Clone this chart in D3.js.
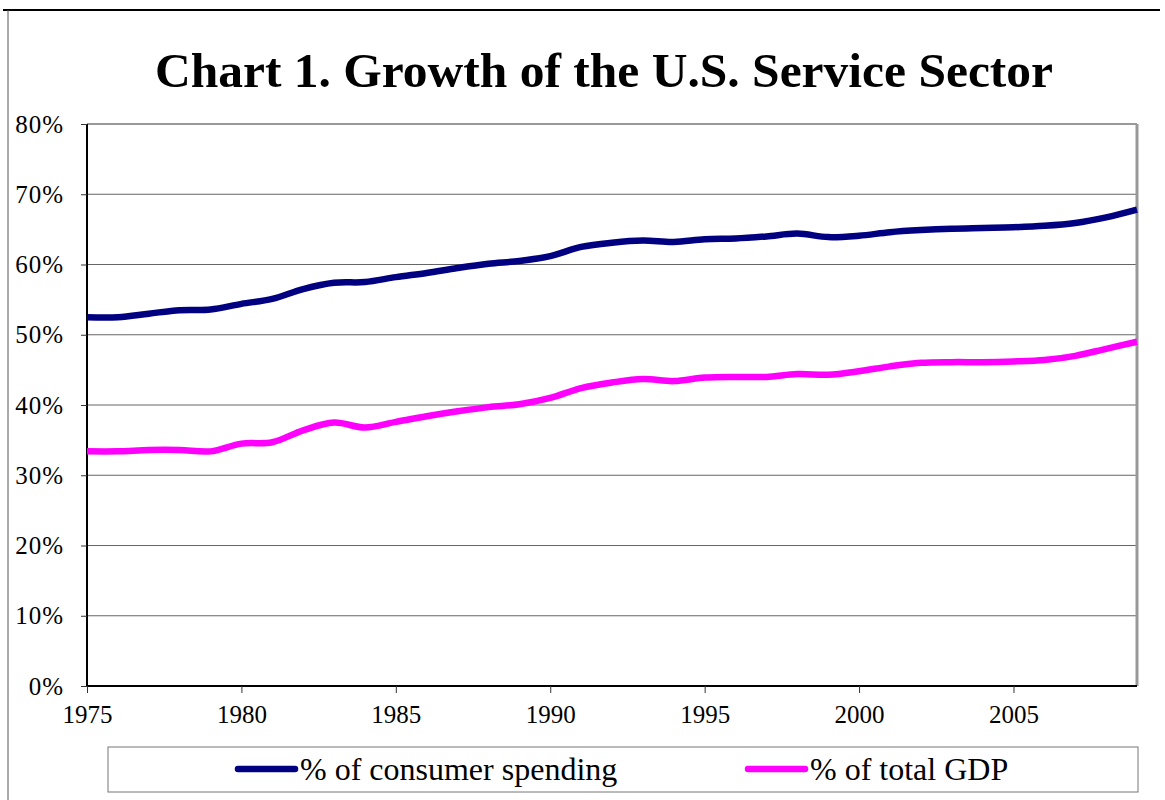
<!DOCTYPE html>
<html>
<head>
<meta charset="utf-8">
<script src="https://cdn.jsdelivr.net/npm/d3@7"></script>
<style>
  body { margin: 0; background: #fff; }
  text { font-family: "Liberation Serif", "Times New Roman", serif; }
</style>
</head>
<body>
<div id="chart"></div>
<script>
// data
var years = d3.range(1975, 2010);
var consumerSpending = [52.5, 52.5, 53.0, 53.5, 53.6, 54.4, 55.1, 56.5, 57.4, 57.5,
  58.2, 58.8, 59.5, 60.1, 60.5, 61.2, 62.5, 63.1, 63.4, 63.2,
  63.6, 63.7, 64.0, 64.4, 63.9, 64.1, 64.6, 64.9, 65.1, 65.2,
  65.3, 65.5, 65.9, 66.7, 67.8];
var totalGDP = [33.4, 33.4, 33.6, 33.6, 33.4, 34.5, 34.7, 36.4, 37.5, 36.8,
  37.6, 38.4, 39.1, 39.7, 40.1, 41.0, 42.4, 43.2, 43.7, 43.4,
  43.9, 44.0, 44.0, 44.4, 44.3, 44.8, 45.5, 46.0, 46.1, 46.1,
  46.2, 46.4, 47.0, 48.0, 49.0];
var seriesNames = ["% of consumer spending", "% of total GDP"];
var seriesColors = ["#000080", "#ff00ff"];
var yTicks = [0, 10, 20, 30, 40, 50, 60, 70, 80];
var xTicks = [1975, 1980, 1985, 1990, 1995, 2000, 2005];

var svgWidth = 1165;
var svgHeight = 800;

var margin = { top: 124, right: 28, bottom: 114, left: 87 };
var width = svgWidth - margin.left - margin.right;
var height = svgHeight - margin.top - margin.bottom;

var svg = d3.select("#chart")
  .append("svg")
  .attr("width", svgWidth)
  .attr("height", svgHeight);

// outer frame bits
svg.append("line")
  .attr("x1", 3).attr("x2", 1160).attr("y1", 10).attr("y2", 10)
  .attr("stroke", "#000").attr("stroke-width", 2);
svg.append("line")
  .attr("x1", 8).attr("x2", 8).attr("y1", 10).attr("y2", 800)
  .attr("stroke", "#555").attr("stroke-width", 1);

svg.append("text")
  .attr("x", 604)
  .attr("y", 87)
  .attr("text-anchor", "middle")
  .attr("font-size", "49.5px")
  .attr("font-weight", "bold")
  .text("Chart 1. Growth of the U.S. Service Sector");

var chartGroup = svg.append("g")
  .attr("transform", `translate(${margin.left},${margin.top})`);

var xScale = d3.scaleLinear().domain([1975, 2009]).range([0, width]);
var yScale = d3.scaleLinear().domain([0, 80]).range([height, 0]);

// gridlines
chartGroup.append("g")
  .selectAll("line")
  .data(yTicks.slice(1))
  .enter()
  .append("line")
  .attr("x1", 0).attr("x2", width)
  .attr("y1", d => yScale(d)).attr("y2", d => yScale(d))
  .attr("stroke", d => d === 80 ? "#999" : "#666")
  .attr("stroke-width", d => d === 80 ? 2 : 1);

chartGroup.append("line")
  .attr("x1", width).attr("x2", width).attr("y1", 0).attr("y2", height)
  .attr("stroke", "#999").attr("stroke-width", 3);

var leftAxis = d3.axisLeft(yScale)
  .tickValues(yTicks)
  .tickSize(6)
  .tickPadding(17)
  .tickFormat(d => d + "%");

var bottomAxis = d3.axisBottom(xScale)
  .tickValues(xTicks)
  .tickSize(7)
  .tickPadding(12)
  .tickFormat(d3.format("d"));

var yAxisG = chartGroup.append("g").call(leftAxis);
var xAxisG = chartGroup.append("g")
  .attr("transform", `translate(0, ${height})`)
  .call(bottomAxis);

[yAxisG, xAxisG].forEach(function(g) {
  g.attr("font-family", null).attr("font-size", null);
  g.select(".domain").attr("stroke", "#000").attr("stroke-width", 2);
  g.selectAll(".tick line").attr("stroke", "#333");
  g.selectAll(".tick text")
    .attr("font-size", "25px")
    .attr("fill", "#000");
});
yAxisG.select(".domain").attr("d", `M0,0V${height}`);
xAxisG.select(".domain").attr("d", `M0,0H${width}`);
yAxisG.selectAll(".tick text").attr("letter-spacing", "1px");

var line = d3.line()
  .x((d, i) => xScale(years[i]))
  .y(d => yScale(d))
  .curve(d3.curveCatmullRom.alpha(0.5));

[consumerSpending, totalGDP].forEach(function(vals, i) {
  chartGroup.append("path")
    .datum(vals)
    .attr("fill", "none")
    .attr("stroke", seriesColors[i])
    .attr("stroke-width", 6.5)
    .attr("stroke-linejoin", "round")
    .attr("d", line);
});

// legend
var legend = svg.append("g");
legend.append("rect")
  .attr("x", 108).attr("y", 747)
  .attr("width", 1030).attr("height", 45)
  .attr("fill", "#fff")
  .attr("stroke", "#777")
  .attr("stroke-width", 1);

var legendX = [238, 748];
seriesNames.forEach(function(name, i) {
  legend.append("line")
    .attr("x1", legendX[i]).attr("x2", legendX[i] + 57)
    .attr("y1", 769).attr("y2", 769)
    .attr("stroke", seriesColors[i])
    .attr("stroke-width", 6.5)
    .attr("stroke-linecap", "round");
  legend.append("text")
    .attr("x", legendX[i] + 62)
    .attr("y", 780)
    .attr("font-size", "32px")
    .text(name);
});
</script>
</body>
</html>
